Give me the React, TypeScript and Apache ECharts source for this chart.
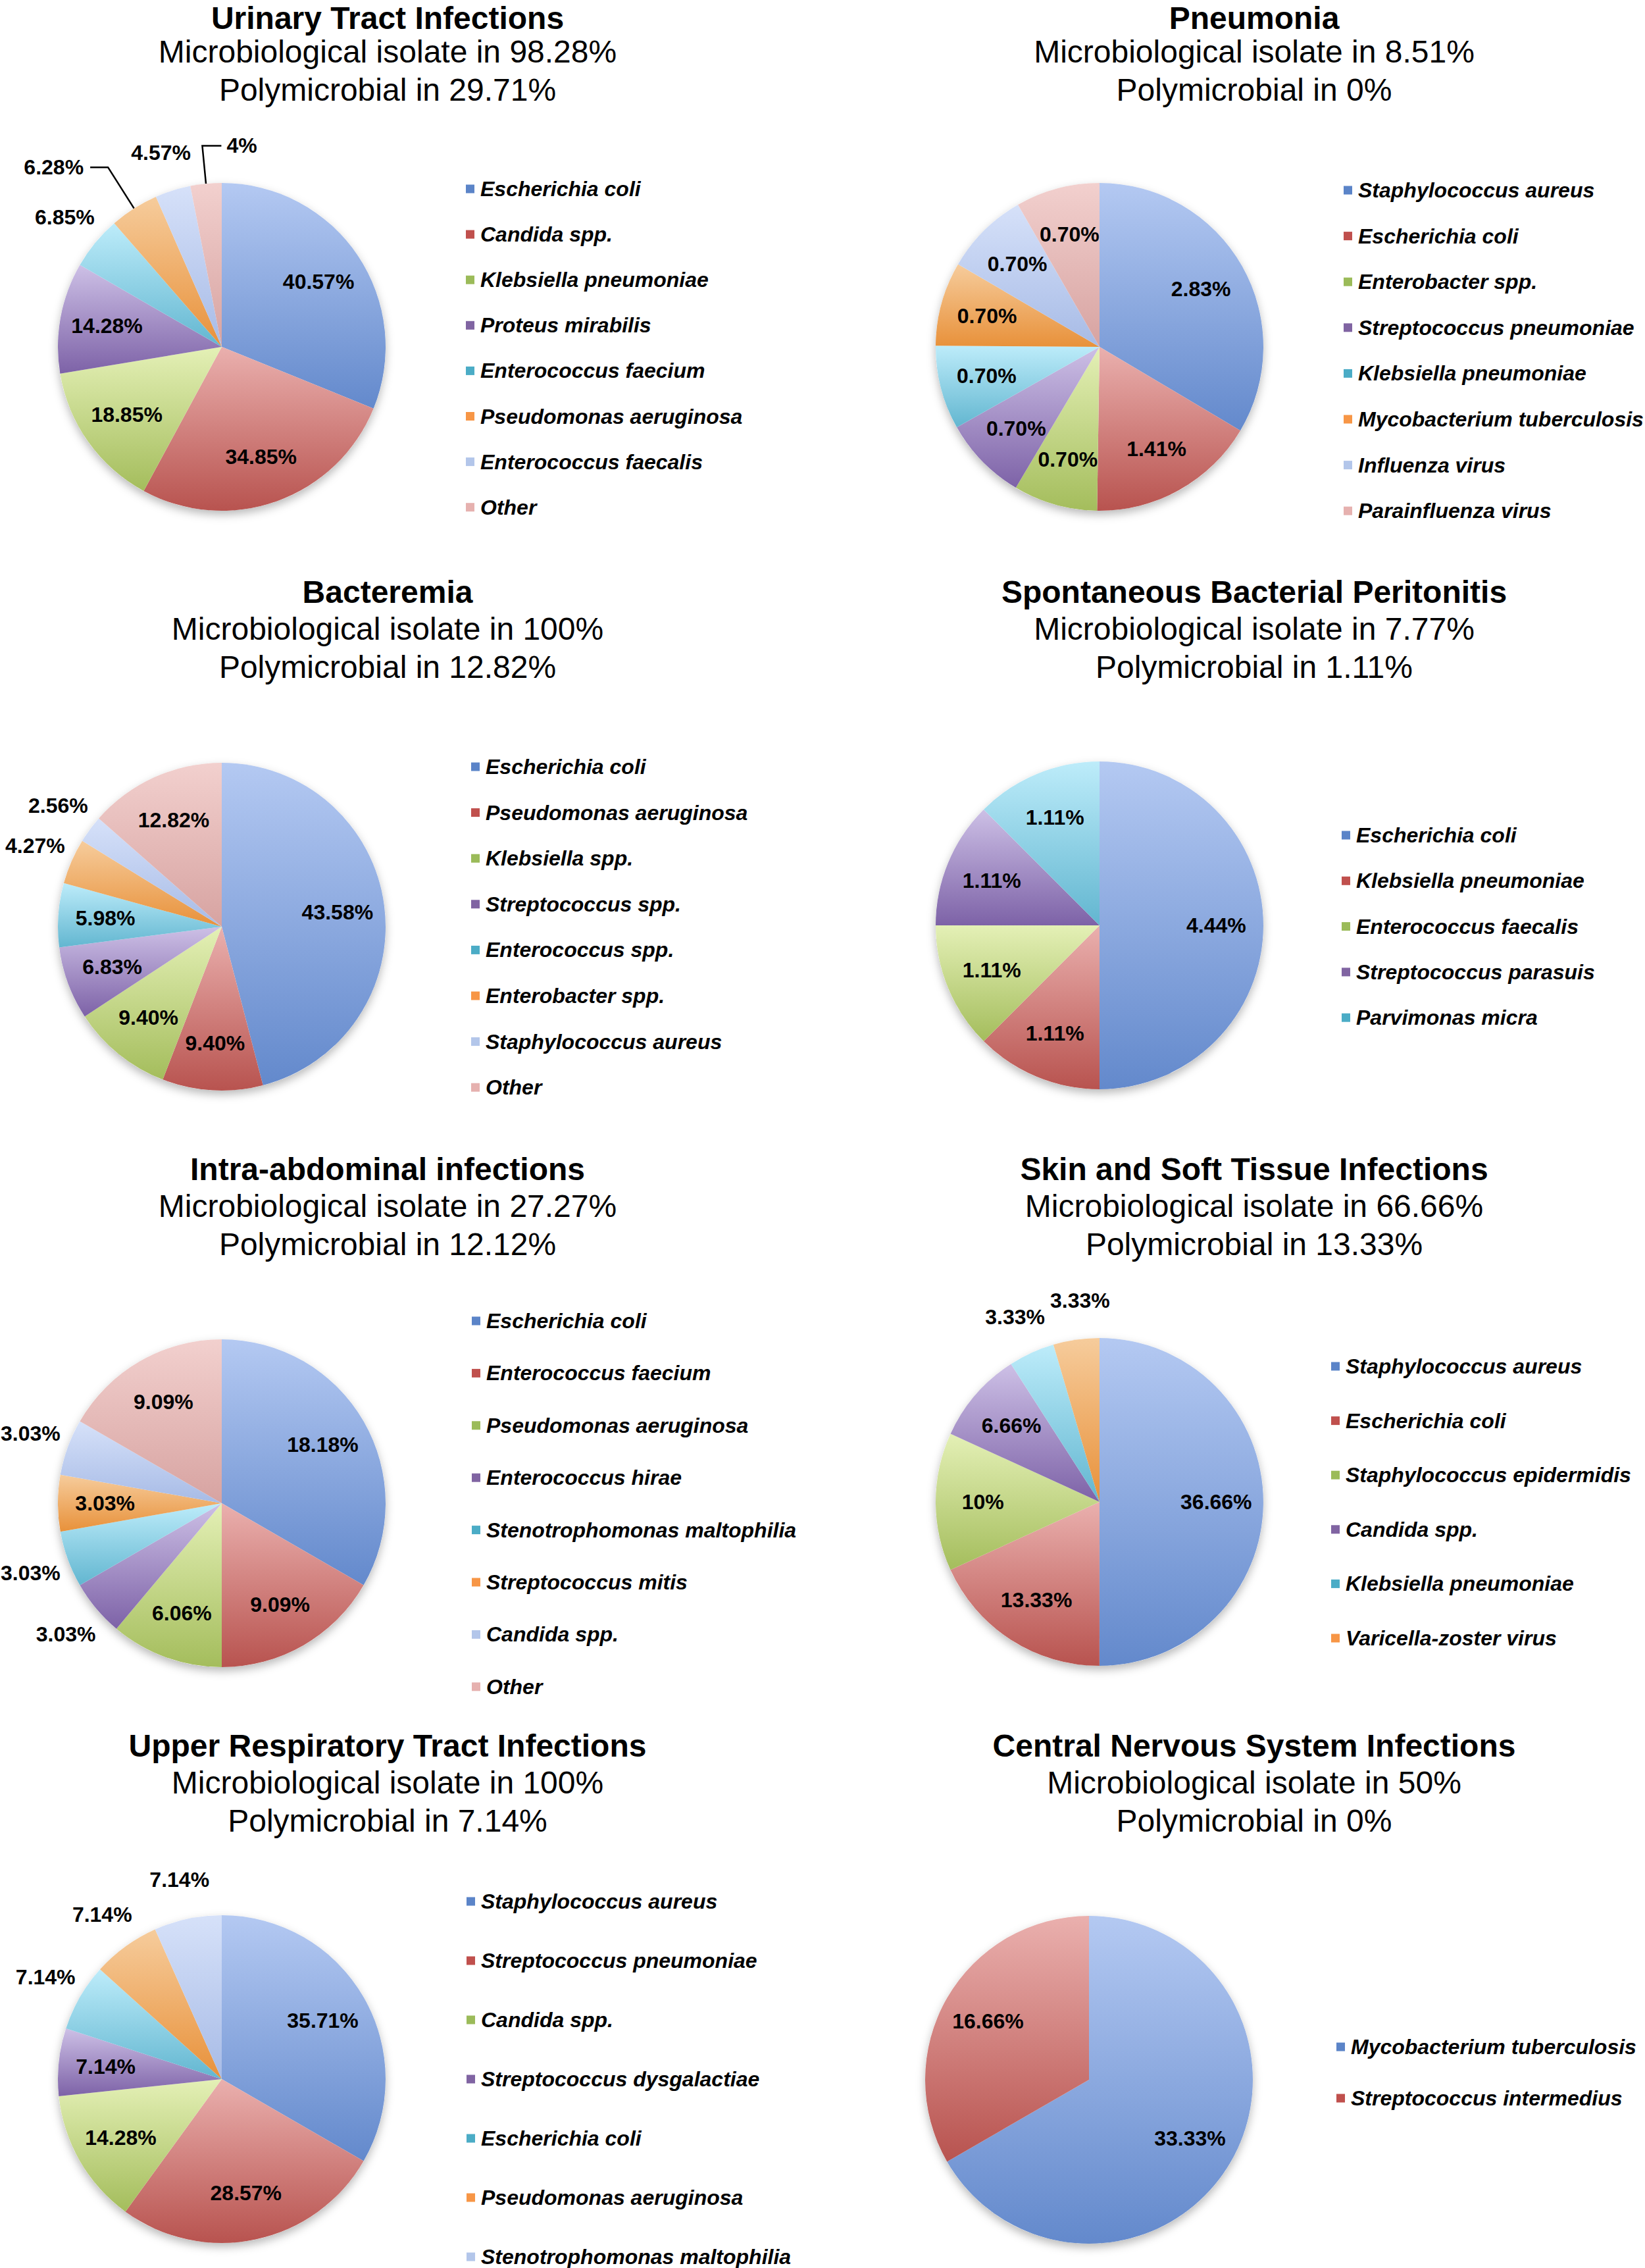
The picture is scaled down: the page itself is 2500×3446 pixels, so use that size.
import React, { useEffect, useRef } from 'react';
import * as echarts from 'echarts';

// ---------------- Data ----------------
const utiTitle = 'Urinary Tract Infections';
const utiIsolate = 98.28;
const utiPoly = 29.71;
const utiNames = ['Escherichia coli', 'Candida spp.', 'Klebsiella pneumoniae', 'Proteus mirabilis', 'Enterococcus faecium', 'Pseudomonas aeruginosa', 'Enterococcus faecalis', 'Other'];
const utiValues = [40.57, 34.85, 18.85, 14.28, 6.85, 6.28, 4.57, 4];
const utiLabelModes = ['in', 'in', 'in', 'in', 'out', 'line', 'out', 'lineFlip'];

const pneuTitle = 'Pneumonia';
const pneuIsolate = 8.51;
const pneuPoly = 0;
const pneuNames = ['Staphylococcus aureus', 'Escherichia coli', 'Enterobacter spp.', 'Streptococcus pneumoniae', 'Klebsiella pneumoniae', 'Mycobacterium tuberculosis', 'Influenza virus', 'Parainfluenza virus'];
const pneuValues = [2.83, 1.41, 0.70, 0.70, 0.70, 0.70, 0.70, 0.70];
const pneuLabelModes = ['in', 'in', 'in', 'in', 'in', 'in', 'in', 'in'];

const bactTitle = 'Bacteremia';
const bactIsolate = 100;
const bactPoly = 12.82;
const bactNames = ['Escherichia coli', 'Pseudomonas aeruginosa', 'Klebsiella spp.', 'Streptococcus spp.', 'Enterococcus spp.', 'Enterobacter spp.', 'Staphylococcus aureus', 'Other'];
const bactValues = [43.58, 9.40, 9.40, 6.83, 5.98, 4.27, 2.56, 12.82];
const bactLabelModes = ['in', 'in', 'in', 'in', 'in', 'out', 'out', 'in'];

const sbpTitle = 'Spontaneous Bacterial Peritonitis';
const sbpIsolate = 7.77;
const sbpPoly = 1.11;
const sbpNames = ['Escherichia coli', 'Klebsiella pneumoniae', 'Enterococcus faecalis', 'Streptococcus parasuis', 'Parvimonas micra'];
const sbpValues = [4.44, 1.11, 1.11, 1.11, 1.11];
const sbpLabelModes = ['in', 'in', 'in', 'in', 'in'];

const iaiTitle = 'Intra-abdominal infections';
const iaiIsolate = 27.27;
const iaiPoly = 12.12;
const iaiNames = ['Escherichia coli', 'Enterococcus faecium', 'Pseudomonas aeruginosa', 'Enterococcus hirae', 'Stenotrophomonas maltophilia', 'Streptococcus mitis', 'Candida spp.', 'Other'];
const iaiValues = [18.18, 9.09, 6.06, 3.03, 3.03, 3.03, 3.03, 9.09];
const iaiLabelModes = ['in', 'in', 'in', 'out', 'out', 'in', 'out', 'in'];

const sstiTitle = 'Skin and Soft Tissue Infections';
const sstiIsolate = 66.66;
const sstiPoly = 13.33;
const sstiNames = ['Staphylococcus aureus', 'Escherichia coli', 'Staphylococcus epidermidis', 'Candida spp.', 'Klebsiella pneumoniae', 'Varicella-zoster virus'];
const sstiValues = [36.66, 13.33, 10, 6.66, 3.33, 3.33];
const sstiLabelModes = ['in', 'in', 'in', 'in', 'out', 'out'];

const urtiTitle = 'Upper Respiratory Tract Infections';
const urtiIsolate = 100;
const urtiPoly = 7.14;
const urtiNames = ['Staphylococcus aureus', 'Streptococcus pneumoniae', 'Candida spp.', 'Streptococcus dysgalactiae', 'Escherichia coli', 'Pseudomonas aeruginosa', 'Stenotrophomonas maltophilia'];
const urtiValues = [35.71, 28.57, 14.28, 7.14, 7.14, 7.14, 7.14];
const urtiLabelModes = ['in', 'in', 'in', 'in', 'out', 'out', 'out'];

const cnsTitle = 'Central Nervous System Infections';
const cnsIsolate = 50;
const cnsPoly = 0;
const cnsNames = ['Mycobacterium tuberculosis', 'Streptococcus intermedius'];
const cnsValues = [33.33, 16.66];
const cnsLabelModes = ['in', 'in'];

// ---------------- Styles / layout ----------------
const FONT = "'Liberation Sans', Arial, Helvetica, sans-serif";
const R = 249;
const topColors = ['#b4c9f2', '#eab0ae', '#e4f0b6', '#cdc0e6', '#bdecfa', '#f6cc9c', '#d6e1f9', '#f2d0ce'];
const bottomColors = ['#6389cc', '#b8534f', '#a4bd5c', '#7d62a7', '#62b6d0', '#e8913a', '#a7bbe6', '#d7a3a1'];
const legendColors = ['#5b84c8', '#c0504d', '#9bbb59', '#8064a2', '#4bacc6', '#f79646', '#b3c6ea', '#e6b1af'];

const panels = [
  { title: utiTitle, isolate: utiIsolate, poly: utiPoly, names: utiNames, values: utiValues, modes: utiLabelModes },
  { title: pneuTitle, isolate: pneuIsolate, poly: pneuPoly, names: pneuNames, values: pneuValues, modes: pneuLabelModes },
  { title: bactTitle, isolate: bactIsolate, poly: bactPoly, names: bactNames, values: bactValues, modes: bactLabelModes },
  { title: sbpTitle, isolate: sbpIsolate, poly: sbpPoly, names: sbpNames, values: sbpValues, modes: sbpLabelModes },
  { title: iaiTitle, isolate: iaiIsolate, poly: iaiPoly, names: iaiNames, values: iaiValues, modes: iaiLabelModes },
  { title: sstiTitle, isolate: sstiIsolate, poly: sstiPoly, names: sstiNames, values: sstiValues, modes: sstiLabelModes },
  { title: urtiTitle, isolate: urtiIsolate, poly: urtiPoly, names: urtiNames, values: urtiValues, modes: urtiLabelModes },
  { title: cnsTitle, isolate: cnsIsolate, poly: cnsPoly, names: cnsNames, values: cnsValues, modes: cnsLabelModes },
];

const layouts = [
  { cx: 337, cy: 527, tx: 589, ty: 22, lx: 708, ly: 287, step: 69.1 },
  { cx: 1671, cy: 527, tx: 1906, ty: 22, lx: 2042, ly: 289, step: 69.6 },
  { cx: 337, cy: 1408, tx: 589, ty: 899, lx: 716, ly: 1165, step: 69.6 },
  { cx: 1671, cy: 1406, tx: 1906, ty: 899, lx: 2039, ly: 1269, step: 69.3 },
  { cx: 337, cy: 2284, tx: 589, ty: 1776, lx: 717, ly: 2007, step: 79.4 },
  { cx: 1671, cy: 2282, tx: 1906, ty: 1776, lx: 2023, ly: 2076, step: 82.6 },
  { cx: 337, cy: 3159, tx: 589, ty: 2652, lx: 709, ly: 2889, step: 90 },
  { cx: 1655, cy: 3160, tx: 1906, ty: 2652, lx: 2031, ly: 3110, step: 78 },
];

const lineLengths: Record<string, [number, number]> = { line: [74, 27], lineFlip: [58, 29] };

const fmt = (v: number) => (Number.isInteger(v) ? String(v) : v.toFixed(2));

function gradient(i: number) {
  return new echarts.graphic.LinearGradient(0, 0, 0, 1, [
    { offset: 0, color: topColors[i] },
    { offset: 1, color: bottomColors[i] },
  ]);
}

const labelText = {
  color: '#000',
  fontSize: 32,
  fontWeight: 'bold' as const,
  fontFamily: FONT,
  formatter: (p: any) => fmt(p.value) + '%',
};

// keeps outside labels of one pie from overlapping: a later label is pushed to the right
function makeOuterLabelLayout(modes: string[]) {
  let placed: { x: number; y: number; width: number; height: number }[] = [];
  let lastIdx = -1;
  return (params: any) => {
    if (params.dataIndex <= lastIdx) placed = [];
    lastIdx = params.dataIndex;
    if (modes[params.dataIndex] !== 'out' || !params.labelRect) return { hideOverlap: false };
    const r = params.labelRect;
    let dx = 0;
    for (const q of placed) {
      const overlapX = r.x + dx < q.x + q.width + 4 && r.x + dx + r.width > q.x - 4;
      const overlapY = r.y < q.y + q.height && r.y + r.height > q.y;
      if (overlapX && overlapY) dx = q.x + q.width + 8 - r.x;
    }
    placed.push({ x: r.x + dx, y: r.y, width: r.width, height: r.height });
    return { dx, hideOverlap: false };
  };
}

function buildOption() {
  const title: any[] = [];
  const legend: any[] = [];
  const series: any[] = [];

  panels.forEach((p, k) => {
    const L = layouts[k];
    const titleLine = 54;
    const top = Math.max(0, L.ty - titleLine / 2);
    const subTop = L.ty + 27;
    title.push({
      text: p.title,
      subtext: `Microbiological isolate in ${fmt(p.isolate)}%\nPolymicrobial in ${fmt(p.poly)}%`,
      left: L.tx,
      top,
      textAlign: 'center',
      padding: 0,
      itemGap: subTop - top - titleLine,
      textStyle: { fontSize: 48, fontWeight: 'bold', lineHeight: titleLine, color: '#000', fontFamily: FONT },
      subtextStyle: { fontSize: 48, lineHeight: 58, color: '#000', fontFamily: FONT },
    });

    legend.push({
      orient: 'vertical',
      left: L.lx,
      top: L.ly - 20,
      height: 900,
      padding: 0,
      itemGap: L.step - 40,
      itemWidth: 13,
      itemHeight: 13,
      icon: 'rect',
      selectedMode: false,
      textStyle: {
        fontSize: 32,
        fontWeight: 'bold',
        fontStyle: 'italic',
        lineHeight: 40,
        color: '#000',
        fontFamily: FONT,
        padding: [0, 0, 0, 4],
      },
      data: p.names.map((n, i) => ({ name: n, itemStyle: { color: legendColors[i] } })),
    });

    // soft shadow under the pie
    series.push({
      type: 'pie',
      center: [L.cx, L.cy],
      radius: R,
      silent: true,
      z: 1,
      data: [{ value: 1, name: '' }],
      itemStyle: { color: '#ffffff', borderWidth: 0, shadowBlur: 14, shadowColor: 'rgba(0,0,0,0.28)', shadowOffsetY: 6 },
      label: { show: false },
      labelLine: { show: false },
    });

    const modes = p.modes;
    // coloured slices (labels with leader lines)
    series.push({
      type: 'pie',
      center: [L.cx, L.cy],
      radius: R,
      startAngle: 90,
      clockwise: true,
      silent: true,
      z: 2,
      avoidLabelOverlap: false,
      itemStyle: { borderWidth: 0 },
      data: p.values.map((v, i) => {
        const isLine = modes[i] === 'line' || modes[i] === 'lineFlip';
        const ll = lineLengths[modes[i]] || [20, 10];
        return {
          value: v,
          name: p.names[i],
          itemStyle: { color: gradient(i), borderWidth: 0 },
          label: { show: isLine },
          labelLine: { show: isLine, length: ll[0], length2: ll[1] },
        };
      }),
      label: { ...labelText, position: 'outside', distanceToLabelLine: 10 },
      labelLine: { lineStyle: { color: '#000', width: 2.5 } },
      labelLayout: (params: any) => {
        if (modes[params.dataIndex] !== 'lineFlip' || !params.labelLinePoints) return { hideOverlap: false };
        const pts = params.labelLinePoints;
        const p1 = pts[1];
        const p2 = pts[2];
        const len2 = Math.abs(p1[0] - p2[0]);
        const np2 = [p1[0] + len2, p2[1]];
        return {
          labelLinePoints: [pts[0], p1, np2],
          x: np2[0] + 8,
          y: np2[1],
          align: 'left',
          verticalAlign: 'middle',
          hideOverlap: false,
        };
      },
    });

    // inside labels (transparent helper ring, labels at 0.7 R)
    series.push({
      type: 'pie',
      center: [L.cx, L.cy],
      radius: R * 1.4,
      startAngle: 90,
      clockwise: true,
      silent: true,
      z: 3,
      avoidLabelOverlap: false,
      itemStyle: { color: 'rgba(0,0,0,0)', borderWidth: 0 },
      data: p.values.map((v, i) => ({ value: v, name: p.names[i], label: { show: modes[i] === 'in' } })),
      label: { ...labelText, position: 'inside' },
      labelLine: { show: false },
      labelLayout: { hideOverlap: false },
    });

    // outside labels without leader lines (at ~1.23 R)
    series.push({
      type: 'pie',
      center: [L.cx, L.cy],
      radius: R * 2.46,
      startAngle: 90,
      clockwise: true,
      silent: true,
      z: 3,
      avoidLabelOverlap: false,
      itemStyle: { color: 'rgba(0,0,0,0)', borderWidth: 0 },
      data: p.values.map((v, i) => ({ value: v, name: p.names[i], label: { show: modes[i] === 'out' } })),
      label: { ...labelText, position: 'inside' },
      labelLine: { show: false },
      labelLayout: makeOuterLabelLayout(modes),
    });
  });

  return {
    animation: false,
    backgroundColor: '#ffffff',
    title,
    legend,
    series,
  };
}

export default function App() {
  const ref = useRef<HTMLDivElement>(null);
  useEffect(() => {
    if (!ref.current) return;
    const chart = echarts.init(ref.current, undefined, { renderer: 'svg' });
    chart.setOption(buildOption() as any);
    return () => chart.dispose();
  }, []);
  return (
    <div
      ref={ref}
      style={{ position: 'absolute', left: 0, top: 0, width: 2500, height: 3446, background: '#fff' }}
    />
  );
}
